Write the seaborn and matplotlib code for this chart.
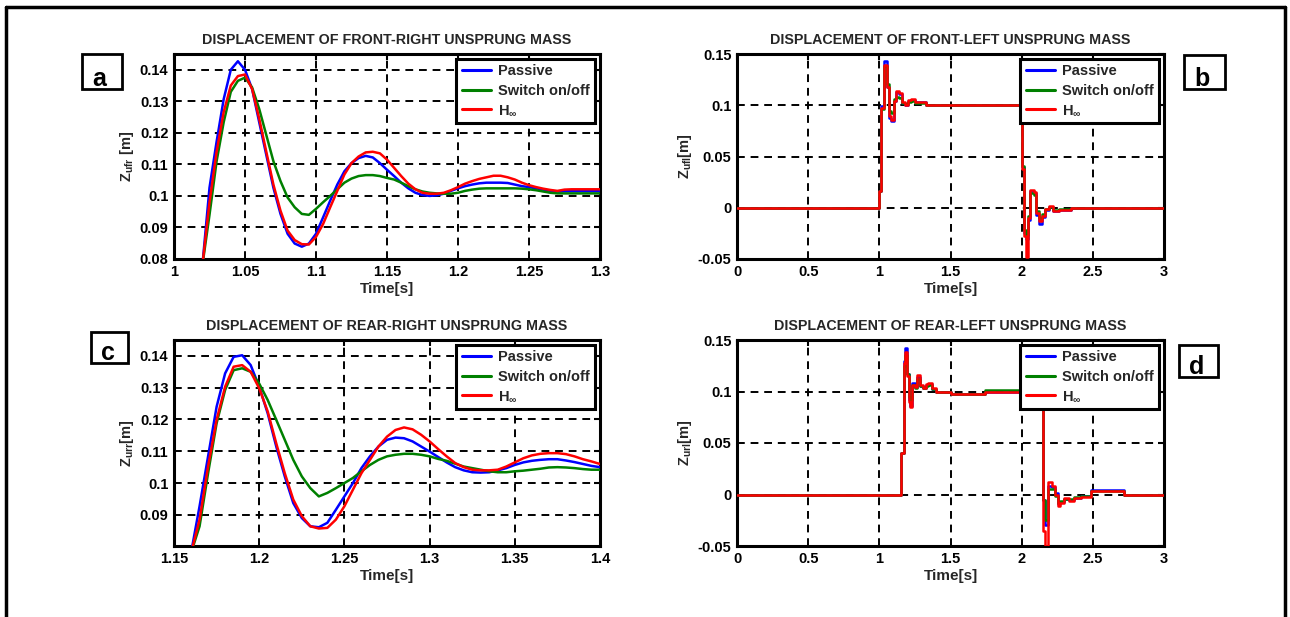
import numpy as np
import pandas as pd
import matplotlib
matplotlib.use("Agg")
import matplotlib.pyplot as plt
import seaborn as sns
from matplotlib.lines import Line2D
from matplotlib.patches import Rectangle
from matplotlib.ticker import FuncFormatter

# ---------------- data ----------------
SERIES = ["Passive", "Switch on/off", "H$_{\\infty}$"]
COLORS = ["#0000ff", "#008000", "#ff0000"]

# (a) front-right, zoomed 1.0 - 1.3 s
a_time = [1.020, 1.025, 1.030, 1.035, 1.040, 1.045, 1.050, 1.055, 1.060, 1.065,
          1.070, 1.075, 1.080, 1.085, 1.090, 1.095, 1.100, 1.105, 1.110, 1.115,
          1.120, 1.125, 1.130, 1.135, 1.140, 1.145, 1.150, 1.155, 1.160, 1.165,
          1.170, 1.175, 1.180, 1.185, 1.190, 1.195, 1.200, 1.205, 1.210, 1.215,
          1.220, 1.225, 1.230, 1.235, 1.240, 1.245, 1.250, 1.255, 1.260, 1.265,
          1.270, 1.275, 1.280, 1.285, 1.290, 1.295, 1.300]
a_passive = [0.0780, 0.1026, 0.1172, 0.1307, 0.1400, 0.1427, 0.1400, 0.1339, 0.1234, 0.1130,
             0.1026, 0.0943, 0.0880, 0.0849, 0.0839, 0.0849, 0.0880, 0.0932, 0.0985, 0.1036,
             0.1078, 0.1104, 0.1120, 0.1127, 0.1122, 0.1104, 0.1083, 0.1063, 0.1042, 0.1024,
             0.1010, 0.1003, 0.1000, 0.1002, 0.1007, 0.1016, 0.1024, 0.1031, 0.1036, 0.1040,
             0.1042, 0.1042, 0.1042, 0.1041, 0.1036, 0.1031, 0.1028, 0.1024, 0.1020, 0.1016,
             0.1014, 0.1015, 0.1015, 0.1015, 0.1015, 0.1015, 0.1015]
a_switch = [0.0780, 0.0940, 0.1110, 0.1234, 0.1330, 0.1365, 0.1375, 0.1344, 0.1276, 0.1193,
            0.1110, 0.1047, 0.0995, 0.0964, 0.0943, 0.0940, 0.0959, 0.0980, 0.1000, 0.1021,
            0.1042, 0.1055, 0.1063, 0.1066, 0.1066, 0.1063, 0.1057, 0.1052, 0.1042, 0.1031,
            0.1021, 0.1014, 0.1010, 0.1008, 0.1007, 0.1007, 0.1010, 0.1016, 0.1020, 0.1023,
            0.1024, 0.1024, 0.1024, 0.1024, 0.1024, 0.1023, 0.1021, 0.1018, 0.1014, 0.1010,
            0.1008, 0.1008, 0.1008, 0.1008, 0.1008, 0.1008, 0.1008]
a_hinf = [0.0780, 0.0980, 0.1140, 0.1266, 0.1350, 0.1380, 0.1385, 0.1339, 0.1245, 0.1140,
          0.1036, 0.0953, 0.0890, 0.0860, 0.0847, 0.0846, 0.0870, 0.0911, 0.0964, 0.1016,
          0.1068, 0.1104, 0.1125, 0.1138, 0.1140, 0.1135, 0.1115, 0.1089, 0.1063, 0.1039,
          0.1021, 0.1010, 0.1007, 0.1007, 0.1010, 0.1018, 0.1028, 0.1039, 0.1047, 0.1054,
          0.1059, 0.1064, 0.1064, 0.1059, 0.1052, 0.1042, 0.1034, 0.1028, 0.1023, 0.1019,
          0.1016, 0.1020, 0.1021, 0.1021, 0.1021, 0.1021, 0.1021]

# (b) front-left, full 0 - 3 s
b_time = [0.0, 1.0, 1.015, 1.03, 1.055, 1.065, 1.085, 1.10, 1.12, 1.14, 1.16, 1.18, 1.20,
          1.22, 1.25, 1.33, 2.0, 2.015, 2.03, 2.045, 2.06, 2.085, 2.10, 2.125, 2.145,
          2.165, 2.19, 2.22, 2.26, 2.35, 3.0]
b_passive = [0, 0.016, 0.099, 0.143, 0.118, 0.088, 0.085, 0.104, 0.113, 0.111, 0.102, 0.100,
             0.104, 0.105, 0.103, 0.100, 0.040, -0.025, -0.030, -0.012, 0.016, 0.014, -0.007,
             -0.016, -0.009, -0.002, 0.001, -0.003, -0.002, 0.000, 0.000]
b_switch = [0, 0.016, 0.096, 0.138, 0.121, 0.094, 0.092, 0.106, 0.108, 0.107, 0.102, 0.101,
            0.103, 0.104, 0.102, 0.100, 0.041, -0.022, -0.027, -0.008, 0.014, 0.012, -0.003,
            -0.010, -0.006, -0.001, 0.001, -0.002, -0.001, 0.000, 0.000]
b_hinf = [0, 0.016, 0.097, 0.139, 0.118, 0.090, 0.086, 0.104, 0.114, 0.112, 0.103, 0.100,
          0.105, 0.106, 0.103, 0.100, 0.038, -0.028, -0.048, -0.010, 0.017, 0.015, -0.005,
          -0.013, -0.008, -0.001, 0.002, -0.003, -0.002, 0.000, 0.000]

# (c) rear-right, zoomed 1.15 - 1.4 s
c_time = [1.160, 1.165, 1.170, 1.175, 1.180, 1.185, 1.190, 1.195, 1.200, 1.205,
          1.210, 1.215, 1.220, 1.225, 1.230, 1.235, 1.240, 1.245, 1.250, 1.255,
          1.260, 1.265, 1.270, 1.275, 1.280, 1.285, 1.290, 1.295, 1.300, 1.305,
          1.310, 1.315, 1.320, 1.325, 1.330, 1.335, 1.340, 1.345, 1.350, 1.355,
          1.360, 1.365, 1.370, 1.375, 1.380, 1.385, 1.390, 1.395, 1.400]
c_passive = [0.0780, 0.0927, 0.1084, 0.1240, 0.1345, 0.1397, 0.1402, 0.1371, 0.1303, 0.1219,
             0.1115, 0.1021, 0.0937, 0.0890, 0.0864, 0.0861, 0.0875, 0.0916, 0.0958, 0.1000,
             0.1047, 0.1084, 0.1115, 0.1136, 0.1143, 0.1141, 0.1131, 0.1115, 0.1099, 0.1082,
             0.1065, 0.1050, 0.1040, 0.1034, 0.1033, 0.1034, 0.1040, 0.1047, 0.1057, 0.1065,
             0.1070, 0.1073, 0.1075, 0.1075, 0.1071, 0.1066, 0.1060, 0.1054, 0.1050]
c_switch = [0.0780, 0.0864, 0.1031, 0.1188, 0.1293, 0.1355, 0.1361, 0.1350, 0.1313, 0.1261,
            0.1199, 0.1136, 0.1073, 0.1021, 0.0984, 0.0958, 0.0969, 0.0984, 0.1000, 0.1016,
            0.1037, 0.1057, 0.1073, 0.1084, 0.1089, 0.1092, 0.1092, 0.1089, 0.1084, 0.1076,
            0.1070, 0.1061, 0.1052, 0.1047, 0.1042, 0.1037, 0.1034, 0.1034, 0.1037, 0.1039,
            0.1042, 0.1045, 0.1049, 0.1050, 0.1049, 0.1047, 0.1044, 0.1042, 0.1042]
c_hinf = [0.0780, 0.0885, 0.1052, 0.1199, 0.1303, 0.1366, 0.1371, 0.1350, 0.1298, 0.1225,
          0.1125, 0.1031, 0.0948, 0.0896, 0.0864, 0.0857, 0.0859, 0.0885, 0.0927, 0.0979,
          0.1031, 0.1073, 0.1115, 0.1146, 0.1167, 0.1175, 0.1169, 0.1152, 0.1131, 0.1107,
          0.1084, 0.1063, 0.1050, 0.1042, 0.1040, 0.1040, 0.1042, 0.1052, 0.1065, 0.1078,
          0.1087, 0.1092, 0.1094, 0.1094, 0.1091, 0.1084, 0.1075, 0.1068, 0.1060]

# (d) rear-left, full 0 - 3 s
d_time = [0.0, 1.155, 1.17, 1.18, 1.195, 1.205, 1.215, 1.23, 1.25, 1.265, 1.285, 1.305,
          1.325, 1.345, 1.37, 1.40, 1.50, 1.74, 2.15, 2.165, 2.185, 2.21, 2.235, 2.255,
          2.27, 2.30, 2.33, 2.37, 2.42, 2.49, 2.72, 3.0]
d_passive = [0, 0.040, 0.130, 0.142, 0.117, 0.092, 0.086, 0.108, 0.104, 0.114, 0.105, 0.103,
             0.106, 0.107, 0.102, 0.100, 0.098, 0.100, -0.005, -0.030, 0.008, 0.007, 0.001,
             -0.009, -0.007, -0.004, -0.005, -0.003, -0.001, 0.004, 0.000, 0.000]
d_switch = [0, 0.040, 0.125, 0.135, 0.117, 0.095, 0.092, 0.106, 0.103, 0.112, 0.105, 0.103,
            0.105, 0.106, 0.102, 0.100, 0.098, 0.101, -0.005, -0.025, 0.005, 0.005, -0.001,
            -0.008, -0.006, -0.004, -0.004, -0.002, -0.001, 0.003, 0.000, 0.000]
d_hinf = [0, 0.040, 0.128, 0.138, 0.115, 0.090, 0.085, 0.106, 0.104, 0.116, 0.106, 0.103,
          0.107, 0.108, 0.103, 0.100, 0.098, 0.100, -0.035, -0.050, 0.012, 0.008, 0.000,
          -0.011, -0.008, -0.003, -0.006, -0.003, -0.002, 0.003, 0.000, 0.000]

TITLES = ["DISPLACEMENT OF FRONT-RIGHT UNSPRUNG MASS",
          "DISPLACEMENT OF FRONT-LEFT UNSPRUNG MASS",
          "DISPLACEMENT OF REAR-RIGHT UNSPRUNG MASS",
          "DISPLACEMENT OF REAR-LEFT UNSPRUNG MASS"]
YLABELS = ["Z$_{ufr}$ [m]", "Z$_{ufl}$[m]", "Z$_{urr}$[m]", "Z$_{url}$[m]"]
PANEL_LETTERS = ["a", "b", "c", "d"]
XLABEL = "Time[s]"

# ---------------- style ----------------
sns.set_theme(style="white")
plt.rcParams["font.family"] = ["Liberation Sans", "DejaVu Sans"]
plt.rcParams["font.weight"] = "bold"
plt.rcParams["mathtext.fontset"] = "custom"
plt.rcParams["mathtext.rm"] = "Liberation Sans:bold"
plt.rcParams["mathtext.bf"] = "Liberation Sans:bold"
plt.rcParams["mathtext.it"] = "Liberation Sans:bold"
plt.rcParams["mathtext.default"] = "bf"

W, H = 1290, 617
fig = plt.figure(figsize=(W / 100, H / 100), dpi=100)
fig.patch.set_facecolor("white")


def fbox(x0, y0, x1, y1):
    return [x0 / W, 1 - y1 / H, (x1 - x0) / W, (y1 - y0) / H]


axes = [fig.add_axes(fbox(174, 54, 600, 259)),
        fig.add_axes(fbox(737, 54, 1164, 259)),
        fig.add_axes(fbox(174, 340, 600, 546)),
        fig.add_axes(fbox(737, 340, 1164, 546))]


def long_df(t, p, s, h):
    frames = []
    for name, vals in zip(SERIES, [p, s, h]):
        frames.append(pd.DataFrame({"t": t, "z": vals, "series": name}))
    return pd.concat(frames, ignore_index=True)


datasets = [long_df(a_time, a_passive, a_switch, a_hinf),
            long_df(b_time, b_passive, b_switch, b_hinf),
            long_df(c_time, c_passive, c_switch, c_hinf),
            long_df(d_time, d_passive, d_switch, d_hinf)]
drawstyles = ["default", "steps-post", "default", "steps-post"]

xlims = [(1.0, 1.3), (0, 3), (1.15, 1.4), (0, 3)]
ylims = [(0.08, 0.145), (-0.05, 0.15), (0.0802, 0.145), (-0.05, 0.15)]
xticks = [np.array([1.0, 1.05, 1.1, 1.15, 1.2, 1.25, 1.3]),
          np.array([0, 0.5, 1, 1.5, 2, 2.5, 3]),
          np.array([1.15, 1.2, 1.25, 1.3, 1.35, 1.4]),
          np.array([0, 0.5, 1, 1.5, 2, 2.5, 3])]
yticks = [np.array([0.08, 0.09, 0.1, 0.11, 0.12, 0.13, 0.14]),
          np.array([-0.05, 0, 0.05, 0.1, 0.15]),
          np.array([0.09, 0.1, 0.11, 0.12, 0.13, 0.14]),
          np.array([-0.05, 0, 0.05, 0.1, 0.15])]

fmt = FuncFormatter(lambda v, p: "%g" % round(v, 4))
palette = dict(zip(SERIES, COLORS))

for i, ax in enumerate(axes):
    sns.lineplot(data=datasets[i], x="t", y="z", hue="series", hue_order=SERIES,
                 palette=palette, ax=ax, drawstyle=drawstyles[i], lw=1.8,
                 estimator=None, sort=False, legend=False, zorder=3)
    ax.set_xlim(*xlims[i])
    ax.set_ylim(*ylims[i])
    ax.set_xticks(xticks[i])
    ax.set_yticks(yticks[i])
    ax.xaxis.set_major_formatter(fmt)
    ax.yaxis.set_major_formatter(fmt)
    ax.grid(True, color="black", linestyle=(0, (4, 3)), lw=1.4, zorder=1)
    ax.set_axisbelow(True)
    for sp in ax.spines.values():
        sp.set_color("black")
        sp.set_linewidth(2.2)
        sp.set_visible(True)
    ax.tick_params(direction="in", length=4, width=1.5, top=True, right=True,
                   labelsize=10.5, pad=4, colors="black")
    for lab in ax.get_xticklabels() + ax.get_yticklabels():
        lab.set_fontweight("bold")
    ax.set_title(TITLES[i], fontsize=10.3, fontweight="bold", pad=7)
    ax.set_xlabel(XLABEL, fontsize=11, fontweight="bold", labelpad=2.5)
    ax.set_ylabel(YLABELS[i], fontsize=10.5, fontweight="bold", labelpad=3)
    handles = [Line2D([0], [0], color=c, lw=2.2) for c in COLORS]
    leg = ax.legend(handles, SERIES, loc="upper right", frameon=True, fancybox=False,
                    edgecolor="black", framealpha=1, borderaxespad=0.35, fontsize=10.5,
                    handlelength=2.0, handletextpad=0.5, labelspacing=0.38, borderpad=0.35)
    leg.get_frame().set_linewidth(2.2)
    leg.set_zorder(10)
    for t in leg.get_texts():
        t.set_fontweight("bold")

# panel letter boxes
boxes = [(82, 54, 122, 89), (1184, 55, 1225, 89), (91, 332, 128, 363), (1179, 345, 1218, 377)]
for (x0, y0, x1, y1), letter in zip(boxes, PANEL_LETTERS):
    fig.add_artist(Rectangle((x0 / W, 1 - y1 / H), (x1 - x0) / W, (y1 - y0) / H,
                             transform=fig.transFigure, fill=False, lw=2.0, ec="black"))
    fig.text((x0 + 10) / W, 1 - (y1 - 3) / H, letter, fontsize=18, fontweight="bold",
             ha="left", va="baseline", color="black")

# outer frame (open at the bottom)
fig.add_artist(Line2D([6 / W, 6 / W], [0, 1 - 7 / H], transform=fig.transFigure,
                      color="black", lw=2.5))
fig.add_artist(Line2D([1285 / W, 1285 / W], [0, 1 - 7 / H], transform=fig.transFigure,
                      color="black", lw=2.5))
fig.add_artist(Line2D([6 / W, 1285 / W], [1 - 7 / H, 1 - 7 / H], transform=fig.transFigure,
                      color="black", lw=2.5))

fig.savefig("out.png", dpi=100, facecolor="white")
